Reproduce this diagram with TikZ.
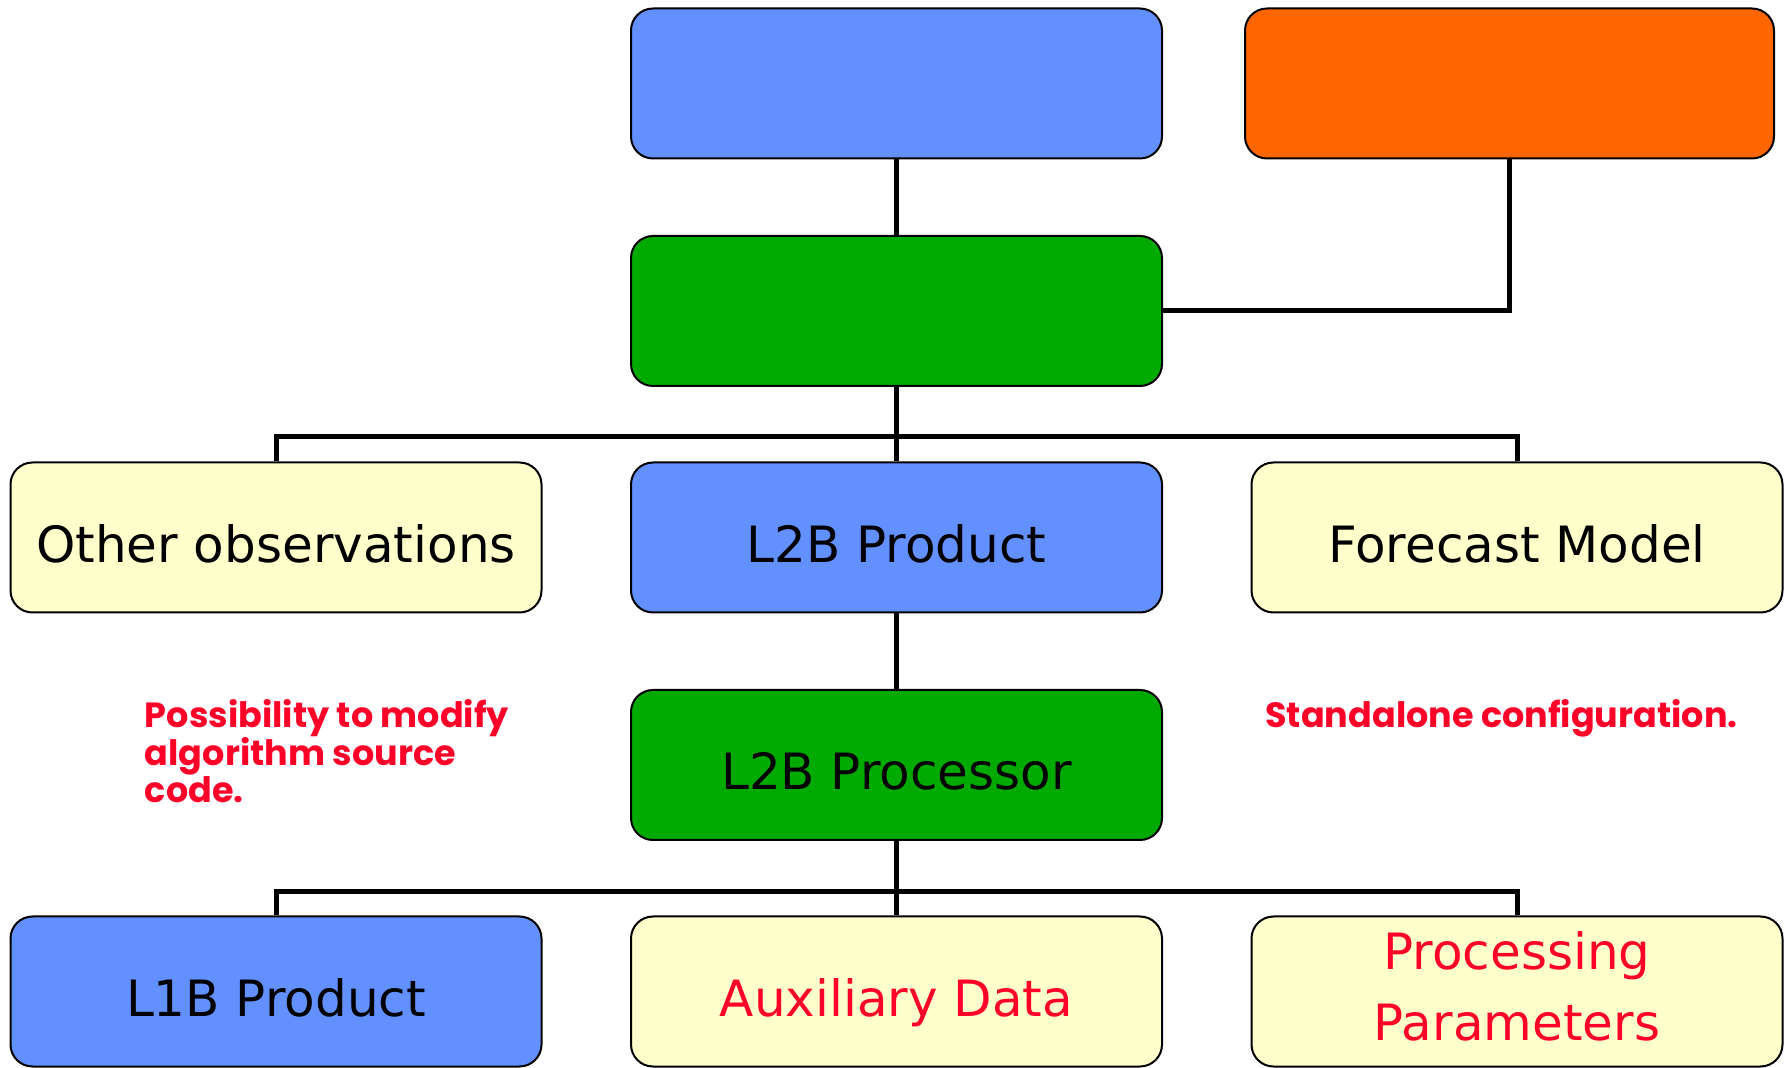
\documentclass[tikz,border=0pt]{standalone}
\usepackage{fontspec}
\setmainfont{DejaVu Sans}
\newfontfamily\notefont{Poppins}
\definecolor{cblue}{RGB}{99,144,255}
\definecolor{cgreen}{RGB}{0,170,0}
\definecolor{corange}{RGB}{255,102,0}
\definecolor{cyellow}{RGB}{255,255,204}
\definecolor{cred}{RGB}{255,0,40}
\tikzset{
  box/.style={draw=black, line width=1pt, rounded corners=11pt,
    minimum width=265.5pt, minimum height=75pt, inner sep=0pt,
    font=\fontsize{25}{35.5}\selectfont, text height=25pt, text depth=0pt},
  link/.style={line width=2.5pt, draw=black},
  note/.style={anchor=base west, align=left, inner sep=0pt, text=cred,
    font=\notefont\bfseries\fontsize{17.5}{18.75}\selectfont}
}
\begin{document}
\begin{tikzpicture}[x=0.5pt, y=-0.5pt]
\useasboundingbox (0,0) rectangle (1784,1068);
% boxes
\node[box, fill=cblue]   (top)   at (896.5,83.5) {};
\node[box, fill=corange, minimum width=264.5pt] (orange) at (1509.5,83.5) {};
\node[box, fill=cgreen]  (mid)   at (896.5,311) {};
\node[box, fill=cyellow] (oth)   at (276,537.5) {Other observations};
\node[box, fill=cblue]   (l2b)   at (896.5,537.5) {L2B Product};
\node[box, fill=cyellow] (fc)    at (1517,537.5) {Forecast Model};
\node[box, fill=cgreen]  (proc)  at (896.5,765) {L2B Processor};
\node[box, fill=cblue]   (l1b)   at (276,991.5) {L1B Product};
\node[box, fill=cyellow, text=cred] (aux) at (896.5,991.5) {Auxiliary Data};
\node[box, fill=cyellow, text=cred, align=center, text height=48.5pt, text depth=0pt] (par) at (1517,991.5) {Processing\\Parameters};
% connectors
\draw[link] (top.south) -- (mid.north);
\draw[link] (orange.south) |- (mid.east);
\draw[link] (mid.south) -- (l2b.north);
\draw[link] (oth.north) -- ++(0,-25) -| (fc.north);
\draw[link] (l2b.south) -- (proc.north);
\draw[link] (proc.south) -- (aux.north);
\draw[link] (l1b.north) -- ++(0,-24) -| (par.north);
% notes
\node[note] (n1) at (144.5,803) {Possibility to modify\\algorithm source\\code.};
\node[note] (n2) at (1265,728) {Standalone configuration.};
\end{tikzpicture}
\end{document}
